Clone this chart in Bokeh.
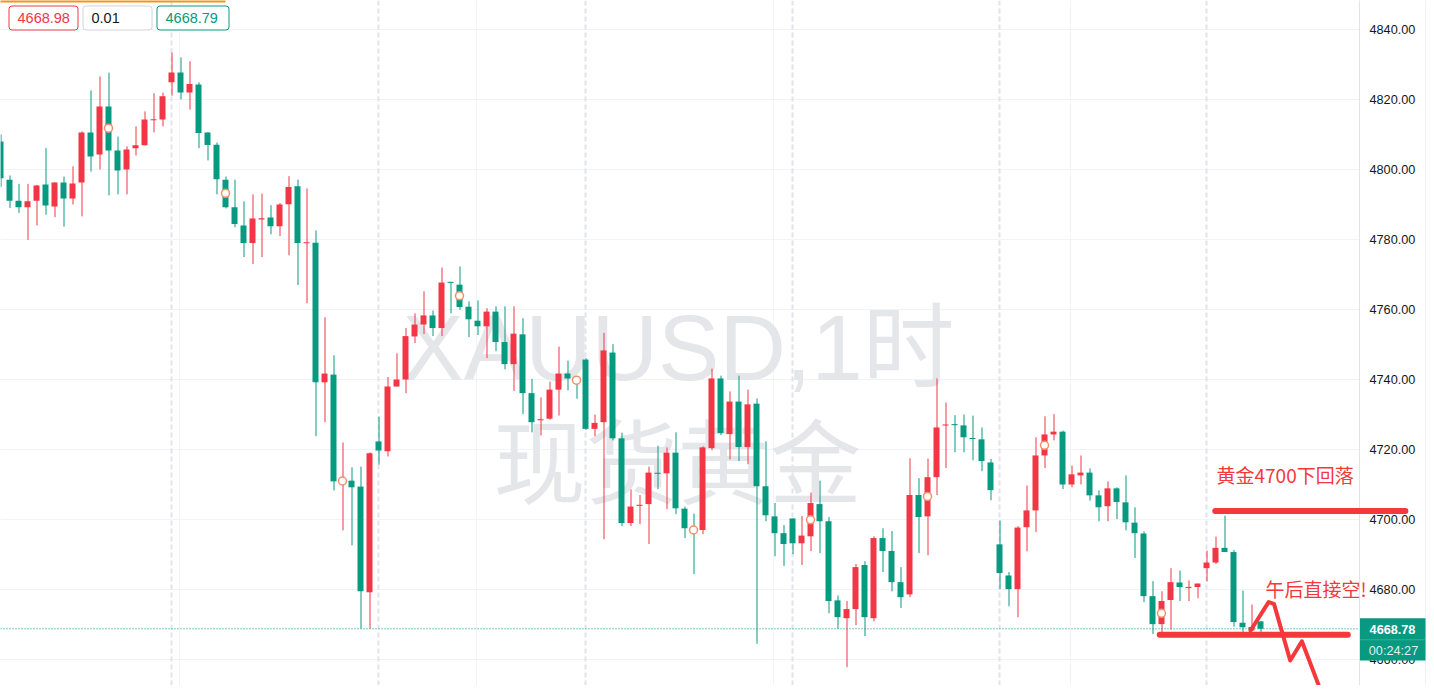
from bokeh.plotting import figure
from bokeh.models import Range1d, FixedTicker, NumeralTickFormatter, Span, Grid
from bokeh.core.properties import value
from bokeh.embed import file_html
from bokeh.resources import INLINE

# ---------------- data (XAUUSD 1h candles) ----------------
opens = [4808.0, 4797.1, 4791.1, 4789.2, 4791.1, 4795.7, 4789.4, 4796.3, 4791.7, 4796.3,
         4810.6, 4804.3, 4818.0, 4805.4, 4800.0, 4806.1, 4806.9, 4814.1, 4814.3, 4824.9,
         4827.7, 4822.0, 4824.3, 4810.6, 4807.1, 4797.1, 4789.2, 4784.0, 4779.0, 4785.8,
         4786.3, 4783.8, 4790.1, 4795.2, 4779.0, 4779.1, 4739.2, 4741.4, 4710.6, 4711.1,
         4709.4, 4679.2, 4722.3, 4719.5, 4738.0, 4740.0, 4752.3, 4755.7, 4758.3, 4754.7,
         4767.9, 4767.1, 4760.8, 4756.8, 4755.2, 4759.4, 4750.7, 4744.4, 4752.9, 4736.1,
         4728.4, 4728.8, 4737.1, 4741.7, 4740.3, 4745.7, 4725.9, 4727.8, 4747.7, 4723.2,
         4699.0, 4704.0, 4704.4, 4713.3, 4713.2, 4719.1, 4703.1, 4697.8, 4697.0, 4720.4,
         4740.3, 4724.4, 4733.7, 4720.7, 4733.1, 4709.5, 4700.9, 4696.1, 4700.3, 4693.2,
         4695.2, 4704.4, 4699.5, 4676.9, 4671.8, 4674.4, 4687.0, 4671.8, 4694.7, 4691.0,
         4682.1, 4678.6, 4707.0, 4700.9, 4712.1, 4726.9, 4727.2, 4726.9, 4723.3, 4722.9,
         4716.3, 4692.9, 4684.0, 4680.1, 4697.8, 4702.6, 4718.3, 4724.3, 4725.1, 4710.0,
         4712.6, 4713.4, 4706.9, 4703.8, 4708.9, 4704.9, 4699.1, 4696.0, 4678.1, 4670.1,
         4677.0, 4682.0, 4680.5, 4680.7, 4686.1, 4687.7, 4691.9, 4690.7, 4670.5, 4668.3,
         4670.9]
highs = [4810.0, 4798.3, 4795.9, 4795.9, 4795.6, 4806.1, 4796.3, 4798.0, 4800.9, 4810.9,
         4822.6, 4826.6, 4827.7, 4809.4, 4806.6, 4812.3, 4816.6, 4821.8, 4822.0, 4833.4,
         4832.0, 4830.9, 4824.9, 4810.6, 4807.7, 4798.0, 4797.1, 4790.9, 4792.9, 4793.1,
         4789.8, 4790.4, 4798.1, 4797.1, 4794.6, 4782.6, 4757.8, 4746.9, 4722.0, 4714.9,
         4715.1, 4719.2, 4729.4, 4740.7, 4747.5, 4754.7, 4758.9, 4765.2, 4759.7, 4772.0,
         4767.9, 4772.3, 4762.3, 4762.6, 4760.4, 4760.9, 4760.9, 4760.9, 4757.5, 4740.2,
         4734.9, 4739.4, 4749.4, 4745.4, 4741.0, 4746.1, 4730.0, 4753.3, 4750.1, 4724.8,
         4708.6, 4707.0, 4715.1, 4721.1, 4720.6, 4724.9, 4703.7, 4701.7, 4720.9, 4743.1,
         4741.1, 4736.6, 4741.1, 4737.1, 4734.6, 4722.3, 4704.7, 4698.4, 4700.3, 4701.0,
         4707.7, 4711.1, 4700.7, 4678.3, 4676.7, 4687.3, 4688.1, 4695.2, 4697.5, 4696.7,
         4686.4, 4717.5, 4711.8, 4717.4, 4740.3, 4733.4, 4729.8, 4730.0, 4729.7, 4726.3,
         4717.3, 4699.7, 4685.0, 4698.1, 4709.7, 4723.5, 4729.5, 4730.1, 4725.4, 4715.4,
         4718.3, 4714.6, 4708.3, 4710.9, 4709.2, 4712.6, 4703.5, 4696.6, 4682.4, 4679.5,
         4686.1, 4685.4, 4682.6, 4681.7, 4691.1, 4695.1, 4701.1, 4691.3, 4679.7, 4675.7,
         4670.9]
lows = [4795.0, 4789.0, 4787.6, 4779.9, 4784.0, 4787.1, 4786.4, 4783.7, 4790.0, 4786.6,
        4799.4, 4800.0, 4792.6, 4792.9, 4792.9, 4804.0, 4806.9, 4810.6, 4812.3, 4821.1,
        4820.0, 4817.1, 4806.1, 4802.6, 4792.9, 4788.9, 4783.5, 4775.0, 4773.0, 4775.0,
        4781.5, 4781.0, 4775.5, 4767.0, 4761.8, 4723.8, 4727.8, 4708.3, 4696.9, 4692.6,
        4668.8, 4668.8, 4715.7, 4718.0, 4738.0, 4736.1, 4750.4, 4753.0, 4752.4, 4752.4,
        4758.9, 4759.9, 4752.1, 4752.7, 4746.1, 4748.1, 4742.9, 4736.7, 4730.1, 4724.9,
        4724.0, 4728.5, 4729.7, 4736.9, 4734.5, 4725.6, 4723.8, 4694.4, 4722.6, 4698.1,
        4698.1, 4698.7, 4693.0, 4708.7, 4703.0, 4701.5, 4694.7, 4684.4, 4695.8, 4719.8,
        4724.1, 4717.2, 4716.7, 4715.8, 4664.5, 4699.5, 4689.5, 4686.7, 4690.1, 4687.0,
        4691.0, 4690.4, 4673.2, 4668.8, 4657.8, 4669.8, 4666.7, 4670.9, 4685.0, 4679.5,
        4674.7, 4677.8, 4690.4, 4689.8, 4707.0, 4714.7, 4719.2, 4719.2, 4716.9, 4713.8,
        4705.5, 4680.1, 4675.2, 4672.1, 4690.9, 4696.4, 4714.7, 4722.6, 4708.7, 4709.2,
        4710.0, 4705.4, 4699.5, 4699.5, 4700.1, 4696.9, 4689.0, 4676.4, 4667.3, 4667.8,
        4668.5, 4676.7, 4676.7, 4677.5, 4682.3, 4687.3, 4690.7, 4669.4, 4667.8, 4668.3,
        4667.8]
closes = [4797.5, 4791.1, 4789.2, 4790.9, 4795.4, 4789.7, 4796.3, 4791.7, 4796.0, 4810.6,
          4803.7, 4818.0, 4805.4, 4799.7, 4805.7, 4806.9, 4814.3, 4814.3, 4820.9, 4827.7,
          4822.0, 4824.4, 4810.4, 4807.0, 4797.2, 4789.2, 4784.4, 4779.0, 4786.0, 4786.0,
          4783.8, 4790.0, 4795.0, 4779.0, 4779.2, 4739.2, 4741.7, 4710.9, 4711.5, 4709.2,
          4679.5, 4718.9, 4719.7, 4738.0, 4740.0, 4752.4, 4755.7, 4758.3, 4754.7, 4767.7,
          4767.6, 4760.7, 4757.2, 4755.2, 4759.4, 4750.7, 4744.4, 4753.1, 4736.1, 4727.8,
          4728.6, 4737.1, 4741.7, 4740.3, 4739.0, 4725.9, 4727.6, 4748.3, 4723.2, 4699.0,
          4703.7, 4704.1, 4713.4, 4713.1, 4719.1, 4703.2, 4697.5, 4697.0, 4720.6, 4740.3,
          4724.7, 4733.7, 4720.7, 4732.9, 4709.5, 4701.2, 4696.1, 4693.0, 4693.2, 4695.4,
          4704.7, 4699.5, 4676.7, 4672.1, 4674.4, 4686.4, 4672.1, 4694.7, 4691.0, 4682.1,
          4677.8, 4707.0, 4700.7, 4712.1, 4726.3, 4727.1, 4727.0, 4723.5, 4723.0, 4716.7,
          4708.4, 4684.7, 4680.1, 4697.7, 4702.6, 4718.3, 4724.3, 4725.1, 4710.0, 4712.9,
          4713.4, 4706.9, 4703.5, 4708.9, 4705.0, 4699.2, 4696.1, 4678.1, 4670.1, 4676.7,
          4682.1, 4680.7, 4680.7, 4681.7, 4687.7, 4691.9, 4690.7, 4670.7, 4669.2, 4669.3,
          4668.78]

# event markers (hollow circles) : bar index and price
event_bars = [12, 25, 38, 51, 64, 77, 90, 103, 116, 129]
event_prices = [4811.8, 4793.2, 4711.0, 4763.9, 4739.8, 4697.0, 4699.9, 4706.6, 4721.2, 4673.2]

last_price = 4668.78
countdown = "00:24:27"
header_values = ["4668.98", "0.01", "4668.79"]
price_ticks = [4660, 4680, 4700, 4720, 4740, 4760, 4780, 4800, 4820, 4840]
session_break_bars = [19, 42, 65, 88, 111, 134]
time_grid_bars = [19.92, 52.9, 85.93, 118.92]

watermark_top = "XAUUSD,1时"
watermark_bottom = "现货黄金"

# hand drawings on the chart
note_texts = ["黄金4700下回落", "午后直接空!"]
resist_x = [134.97, 156.1]
resist_y = [4702.4, 4702.4]
support_x = [128.8, 149.7]
support_y = [4667.1, 4667.1]
zigzag_x = [138.9, 140.9, 141.5, 143.3, 144.6, 147.6]
zigzag_y = [4668.3, 4676.4, 4675.9, 4659.7, 4665.2, 4645.0]

# ---------------- styling ----------------
RED = "#f23645"
GREEN = "#089981"
NOTE_RED = "#f5383b"
GRID = "#f0f3fa"
PX_BAR = 9.0      # pixels per bar
PX_USD = 3.5      # pixels per dollar
FRAME_W = 1359
FRAME_H = 685


def bx(px):
    """picture pixel x -> bar index"""
    return px / PX_BAR


def py(pyy):
    """picture pixel y -> price"""
    return 4840 - (pyy - 29) / PX_USD


p = figure(frame_width=FRAME_W, frame_height=FRAME_H,
           x_range=Range1d(bx(0), bx(FRAME_W)), y_range=Range1d(py(FRAME_H), py(0)),
           x_axis_location=None, y_axis_location="right",
           toolbar_location=None, output_backend="svg",
           background_fill_color="white", border_fill_color="white",
           outline_line_color=None,
           min_border_left=0, min_border_right=67, min_border_top=0, min_border_bottom=0)

# axis
ax = p.yaxis[0]
ax.ticker = FixedTicker(ticks=price_ticks)
ax.formatter = NumeralTickFormatter(format="0.00")
ax.major_tick_in = 0
ax.major_tick_out = 0
ax.minor_tick_in = 0
ax.minor_tick_out = 0
ax.major_tick_line_color = None
ax.minor_tick_line_color = None
ax.axis_line_color = "#e0e3eb"
ax.major_label_standoff = 10
ax.major_label_text_font = "Liberation Sans"
ax.major_label_text_font_size = "12.7px"
ax.major_label_text_color = "#131722"

# grids
p.ygrid.ticker = FixedTicker(ticks=price_ticks)
p.ygrid.grid_line_color = GRID
if len(p.xgrid):
    p.xgrid.ticker = FixedTicker(ticks=time_grid_bars)
    p.xgrid.grid_line_color = GRID
else:
    p.add_layout(Grid(dimension=0, ticker=FixedTicker(ticks=time_grid_bars), grid_line_color=GRID))

for b in session_break_bars:
    p.add_layout(Span(location=b, dimension="height", line_color="#e0e3eb",
                      line_width=2, line_dash="5 3", level="underlay"))

# watermark
p.text(x=[bx(678)], y=[py(347)], text=[watermark_top],
       text_font=value("Liberation Sans, Noto Sans CJK SC"), text_font_size="92px",
       text_color="#e5e6ea", text_align="center", text_baseline="alphabetic")
p.text(x=[bx(677)], y=[py(456)], text=[watermark_bottom],
       text_font=value("Noto Sans CJK SC"), text_font_size="92px",
       text_color="#e5e6ea", text_align="center", text_baseline="middle")

# candles
idx = list(range(len(opens)))
colors = [RED if c >= o else GREEN for o, c in zip(opens, closes)]
tops, bottoms = [], []
for o, c in zip(opens, closes):
    t, b = max(o, c), min(o, c)
    if t - b < 0.3:
        m = (t + b) / 2
        t, b = m + 0.15, m - 0.15
    tops.append(t)
    bottoms.append(b)
wx = [i + 0.5 / PX_BAR for i in idx]
p.segment(x0=wx, y0=highs, x1=wx, y1=lows, line_color=colors, line_width=1)
p.vbar(x=idx, width=6 / PX_BAR, top=tops, bottom=bottoms, fill_color=colors, line_color=None)

# event markers
p.scatter(x=event_bars, y=event_prices, size=8, marker="circle",
          fill_color="white", line_color="#f58f6a", line_width=1.5)

# last price line
p.add_layout(Span(location=last_price, dimension="width", line_color=GREEN,
                  line_width=1, line_dash="1 2"))

# header boxes (top-left)
hdr_left = [8.5, 82.5, 156.5]
hdr_right = [77.5, 151.5, 228.5]
hdr_line = ["#f23645", "#d1d4dc", "#089981"]
hdr_text = ["#f23645", "#131722", "#089981"]
p.quad(left=[bx(v) for v in hdr_left], right=[bx(v) for v in hdr_right],
       top=[py(5.5)] * 3, bottom=[py(29.5)] * 3,
       fill_color="white", line_color=hdr_line, line_width=1, border_radius=3, level="overlay")
p.text(x=[bx(v + 8.5) for v in hdr_left], y=[py(17.5)] * 3, text=header_values,
       text_font=value("Liberation Sans"), text_font_size="14.5px", text_color=hdr_text,
       text_align="left", text_baseline="middle", level="overlay")
# thin orange strip at the very top of the picture
p.quad(left=[bx(0)], right=[bx(225)], top=[py(0)], bottom=[py(2)],
       fill_color="#f7931a", line_color=None, level="overlay")

# hand drawings
p.line(resist_x, resist_y, line_width=6, line_color=NOTE_RED, line_cap="round", level="overlay")
p.line(support_x, support_y, line_width=6, line_color=NOTE_RED, line_cap="round", level="overlay")
p.line(zigzag_x, zigzag_y, line_width=4, line_color=NOTE_RED, line_cap="round",
       line_join="round", level="overlay")
p.text(x=[bx(1216), bx(1265)], y=[py(474), py(588)], text=note_texts,
       text_font=value("Noto Sans CJK SC"), text_font_size="19px", text_color=NOTE_RED,
       text_align="left", text_baseline="middle", level="overlay")

# right-edge divider band
p.quad(left=[bx(1425)], right=[bx(1429)], top=[py(0)], bottom=[py(FRAME_H)],
       fill_color="#e0e3eb", line_color=None, level="overlay")

# last price tag on the axis
p.quad(left=[bx(1359.5)], right=[bx(1425)], top=[py(617.7)], bottom=[py(660)],
       fill_color=GREEN, line_color=None, level="overlay")
p.segment(x0=[bx(1359.5)], y0=[py(639.3)], x1=[bx(1425)], y1=[py(639.3)],
          line_color="#3aae97", line_width=1, level="overlay")
p.text(x=[bx(1392)], y=[py(628.7)], text=[f"{last_price:.2f}"],
       text_font=value("Liberation Sans"), text_font_size="12.7px", text_font_style="bold",
       text_color="white", text_align="center", text_baseline="middle", level="overlay")
p.text(x=[bx(1393)], y=[py(650)], text=[countdown],
       text_font=value("Liberation Sans"), text_font_size="12.7px",
       text_color="#dff1ec", text_align="center", text_baseline="middle", level="overlay")

open("out.html", "w").write(file_html(p, INLINE))
